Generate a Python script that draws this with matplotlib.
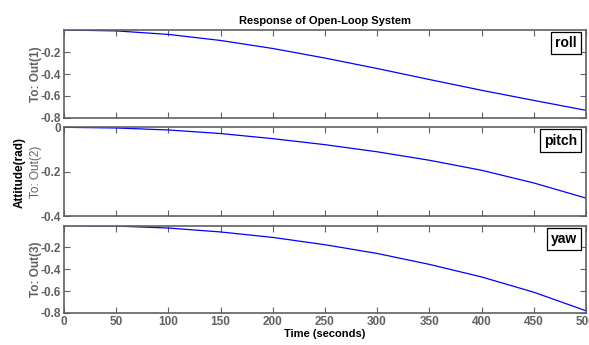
import numpy as np
import matplotlib
matplotlib.use('Agg')
import matplotlib.pyplot as plt

plt.rcParams['font.family'] = ['Liberation Sans', 'DejaVu Sans']

# --- data ---
time = [0, 50, 100, 150, 200, 250, 300, 350, 400, 450, 500]
roll = [0.0, -0.008, -0.04, -0.095, -0.168, -0.255, -0.35, -0.45, -0.548, -0.64, -0.73]
pitch = [0.0, -0.003, -0.012, -0.028, -0.051, -0.078, -0.110, -0.148, -0.193, -0.250, -0.318]
yaw = [0.0, -0.004, -0.022, -0.058, -0.108, -0.175, -0.255, -0.355, -0.47, -0.61, -0.78]

names = ['roll', 'pitch', 'yaw']
ylabels = ['To: Out(1)', 'To: Out(2)', 'To: Out(3)']
ylims = [(-0.8, 0), (-0.4, 0), (-0.8, 0)]
yticks = [[-0.2, -0.4, -0.6, -0.8], [0, -0.2, -0.4], [-0.2, -0.4, -0.6, -0.8]]
xticks = [0, 50, 100, 150, 200, 250, 300, 350, 400, 450, 500]

GRAY = '#606060'

fig = plt.figure(figsize=(5.89, 3.45), dpi=100)
positions = [
    [0.1087, 0.658, 0.886, 0.255],
    [0.1087, 0.373, 0.886, 0.258],
    [0.1087, 0.093, 0.886, 0.253],
]

series = [roll, pitch, yaw]
axes = []
for i, pos in enumerate(positions):
    ax = fig.add_axes(pos)
    ax.plot(time, series[i], color='#0000ff', lw=0.9)
    ax.set_xlim(0, 500)
    ax.set_ylim(*ylims[i])
    ax.set_xticks(xticks)
    ax.set_yticks(yticks[i])
    ax.set_yticklabels([('0' if v == 0 else '%g' % v) for v in yticks[i]])
    ax.tick_params(direction='in', length=4, width=0.8, color=GRAY,
                   top=True, right=True, labelsize=8.5, labelcolor=GRAY, pad=2)
    for lab in ax.get_yticklabels() + ax.get_xticklabels():
        lab.set_fontweight('bold')
    if i < 2:
        ax.tick_params(labelbottom=False)
    for sp in ax.spines.values():
        sp.set_color(GRAY)
        sp.set_linewidth(1.2)
    ax.set_ylabel(ylabels[i], color=GRAY, fontsize=8.5,
                  fontweight=('normal' if i == 1 else 'bold'))
    ax.yaxis.set_label_coords(-0.043, 0.5)
    ax.text(0.983, 0.93, names[i], transform=ax.transAxes, ha='right', va='top',
            fontsize=10, fontweight='bold',
            bbox=dict(boxstyle='square,pad=0.3', fc='white', ec='black', lw=0.9))
    axes.append(ax)

axes[0].set_title('Response of Open-Loop System', fontsize=8, fontweight='bold', pad=4)
axes[2].set_xlabel('Time (seconds)', fontsize=8, fontweight='bold', labelpad=1)
fig.text(0.034, 0.5, 'Attitude(rad)', rotation=90, ha='center', va='center',
         fontsize=8.5, fontweight='bold')

fig.savefig('out.png', dpi=100)
